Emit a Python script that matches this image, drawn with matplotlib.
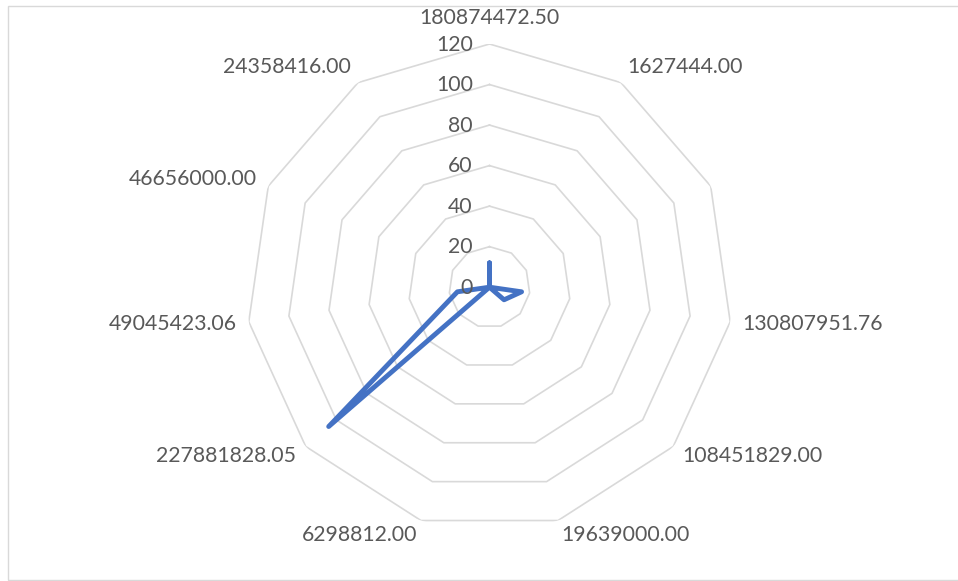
import numpy as np
import matplotlib.pyplot as plt
from matplotlib.patches import Rectangle

# categorias del radar (una sin etiqueta)
categories = ["180874472.50", "1627444.00", "", "130807951.76", "108451829.00",
              "19639000.00", "6298812.00", "227881828.05", "49045423.06",
              "46656000.00", "24358416.00"]
values = [12, 0, 0, 16, 9.5, 0, 0, 105, 16, 0, 0]
rings = [0, 20, 40, 60, 80, 100, 120]

grid_color = "#D9D9D9"
text_color = "#595959"
line_color = "#4472C4"
font = "Lato"

n = len(categories)
angles = np.arange(n) * 2 * np.pi / n

fig = plt.figure(figsize=(9.58, 5.81), dpi=100)
fig.patches.append(Rectangle((8 / 958, 1 / 581), 1.0, 574 / 581, transform=fig.transFigure,
                             fill=False, edgecolor=grid_color, linewidth=1.0))

ax = fig.add_axes([0.2571, 0.0871, 0.5077, 0.8372], polar=True)
ax.set_theta_offset(np.pi / 2)
ax.set_theta_direction(-1)
ax.set_ylim(0, 120)
ax.spines["polar"].set_visible(False)
ax.grid(False)
ax.set_xticks([])
ax.set_yticks([])
ax.patch.set_alpha(0)

# rejilla poligonal
closed = np.append(angles, angles[0])
for r in rings[1:]:
    ax.plot(closed, [r] * (n + 1), color=grid_color, linewidth=1.2, zorder=1)

# serie
vals = values + [values[0]]
ax.plot(closed, vals, color=line_color, linewidth=3.5, solid_joinstyle="round",
        solid_capstyle="round", zorder=3)

# etiquetas del eje radial
for r in rings:
    ax.annotate(str(r), xy=(0, r), xytext=(-12, -0.5), textcoords="offset points",
                ha="right", va="center", fontsize=15.3, color=text_color,
                family=font, zorder=4)

# etiquetas de categorias
for a, lab in zip(angles, categories):
    s, c = np.sin(a), np.cos(a)
    if abs(s) < 0.05:
        ha = "center"
    elif s > 0:
        ha = "left"
    else:
        ha = "right"
    dx = 9 * s
    dy = 13 * c if c > 0 else 11 * c
    if abs(s) < 0.05:
        dy = 19
    ax.annotate(lab, xy=(a, 120), xytext=(dx, dy), textcoords="offset points",
                ha=ha, va="center", fontsize=15.3, color=text_color, family=font)

plt.savefig("out.png", dpi=100)
plt.close()
